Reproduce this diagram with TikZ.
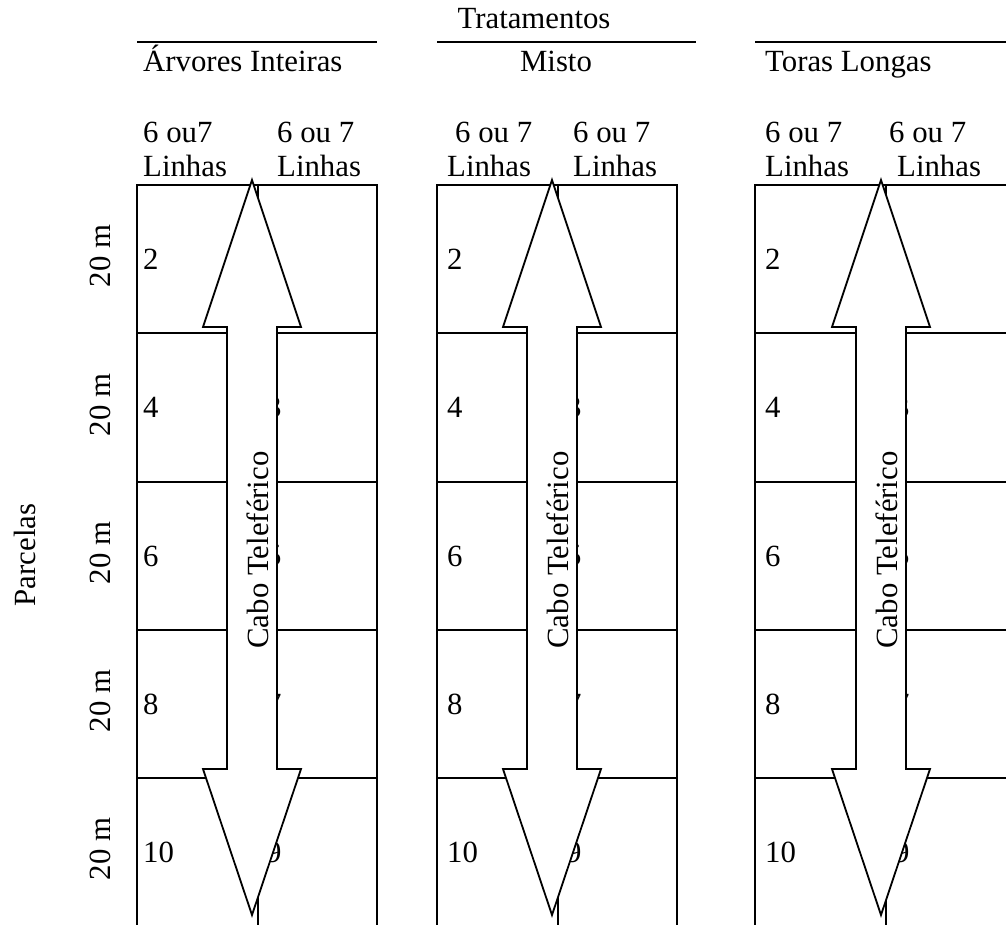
\documentclass[tikz,border=0pt]{standalone}
\usepackage{fontspec}
\setmainfont{Liberation Serif}
\usetikzlibrary{positioning}

\begin{document}
\begin{tikzpicture}[x=1pt,y=-1pt,
  lbl/.style={inner sep=0pt, anchor=base west, font=\fontsize{30.8}{37}\selectfont},
  num/.style={inner sep=0pt, anchor=west, font=\fontsize{30.8}{37}\selectfont},
  vlbl/.style={inner sep=0pt, rotate=90, anchor=base, font=\fontsize{30.8}{37}\selectfont},
  grid/.style={line width=2pt},
  cabo/.style={draw, line width=1.8pt, fill=white, line join=miter}]
  \useasboundingbox (0,0) rectangle (1006,925);
  \clip (0,0) rectangle (1006,925);

  % cabecalho
  \node[lbl, anchor=base] (trat) at (534,29) {Tratamentos};
  \draw[grid] (437,42) -- (696,42);
  \draw[grid] (137,42) -- (377,42);
  \draw[grid] (755,42) -- (1010,42);
  \node[lbl] (arv) at (143,72) {Árvores Inteiras};
  \node[lbl, anchor=base] (misto) at (556,72) {Misto};
  \node[lbl] (toras) at (765,72) {Toras Longas};

  \node[lbl] (la1) at (143,143) {6 ou7};
  \node[lbl] (la2) at (143,177) {Linhas};
  \node[lbl] (lb1) at (277,143) {6 ou 7};
  \node[lbl] (lb2) at (277,177) {Linhas};
  \node[lbl] (lc1) at (455,143) {6 ou 7};
  \node[lbl] (lc2) at (447,177) {Linhas};
  \node[lbl] (ld1) at (573,143) {6 ou 7};
  \node[lbl] (ld2) at (573,177) {Linhas};
  \node[lbl] (le1) at (765,143) {6 ou 7};
  \node[lbl] (le2) at (765,177) {Linhas};
  \node[lbl] (lf1) at (889,143) {6 ou 7};
  \node[lbl] (lf2) at (897,177) {Linhas};

  % parcelas
  \node[vlbl] (parc) at (35,555) {Parcelas};
  \node[vlbl] (m1) at (110,256) {20 m};
  \node[vlbl] (m2) at (110,405) {20 m};
  \node[vlbl] (m3) at (110,553) {20 m};
  \node[vlbl] (m4) at (110,701) {20 m};
  \node[vlbl] (m5) at (110,849) {20 m};

  % bloco 1
  \draw[grid] (137,930) -- (137,185) -- (377,185) -- (377,930);
  \draw[grid] (258,185) -- (258,930);
  \draw[grid] (137,333) -- (377,333) (137,482) -- (377,482)
              (137,630) -- (377,630) (137,778) -- (377,778);
  \node[num] (a2) at (143,259) {2};
  \node[num] (a4) at (143,407) {4};
  \node[num] (a6) at (143,556) {6};
  \node[num] (a8) at (143,704) {8};
  \node[num] (a10) at (143,852) {10};
  \node[num] (a1) at (266,259) {1};
  \node[num] (a3) at (266,407) {3};
  \node[num] (a5) at (266,556) {5};
  \node[num] (a7) at (266,704) {7};
  \node[num] (a9) at (266,852) {9};
  \path[cabo] (252,180) -- (301,327) -- (277,327) -- (277,769) -- (301,769)
    -- (252,915) -- (203,769) -- (227,769) -- (227,327) -- (203,327) -- cycle;
  \node[vlbl] (cabo1) at (268,550) {Cabo Teleférico};

  % bloco 2
  \draw[grid] (437,930) -- (437,185) -- (677,185) -- (677,930);
  \draw[grid] (558,185) -- (558,930);
  \draw[grid] (437,333) -- (677,333) (437,482) -- (677,482)
              (437,630) -- (677,630) (437,778) -- (677,778);
  \node[num] (b2) at (447,259) {2};
  \node[num] (b4) at (447,407) {4};
  \node[num] (b6) at (447,556) {6};
  \node[num] (b8) at (447,704) {8};
  \node[num] (b10) at (447,852) {10};
  \node[num] (b1) at (566,259) {1};
  \node[num] (b3) at (566,407) {3};
  \node[num] (b5) at (566,556) {5};
  \node[num] (b7) at (566,704) {7};
  \node[num] (b9) at (566,852) {9};
  \path[cabo] (552,180) -- (601,327) -- (577,327) -- (577,769) -- (601,769)
    -- (552,915) -- (503,769) -- (527,769) -- (527,327) -- (503,327) -- cycle;
  \node[vlbl] (cabo2) at (568,550) {Cabo Teleférico};

  % bloco 3
  \draw[grid] (755,930) -- (755,185) -- (1010,185);
  \draw[grid] (886,185) -- (886,930);
  \draw[grid] (755,333) -- (1010,333) (755,482) -- (1010,482)
              (755,630) -- (1010,630) (755,778) -- (1010,778);
  \node[num] (c2) at (765,259) {2};
  \node[num] (c4) at (765,407) {4};
  \node[num] (c6) at (765,556) {6};
  \node[num] (c8) at (765,704) {8};
  \node[num] (c10) at (765,852) {10};
  \node[num] (c1) at (894,259) {1};
  \node[num] (c3) at (894,407) {3};
  \node[num] (c5) at (894,556) {5};
  \node[num] (c7) at (894,704) {7};
  \node[num] (c9) at (894,852) {9};
  \path[cabo] (881,180) -- (930,327) -- (906,327) -- (906,769) -- (930,769)
    -- (881,915) -- (832,769) -- (856,769) -- (856,327) -- (832,327) -- cycle;
  \node[vlbl] (cabo3) at (897,550) {Cabo Teleférico};
\end{tikzpicture}
\end{document}
